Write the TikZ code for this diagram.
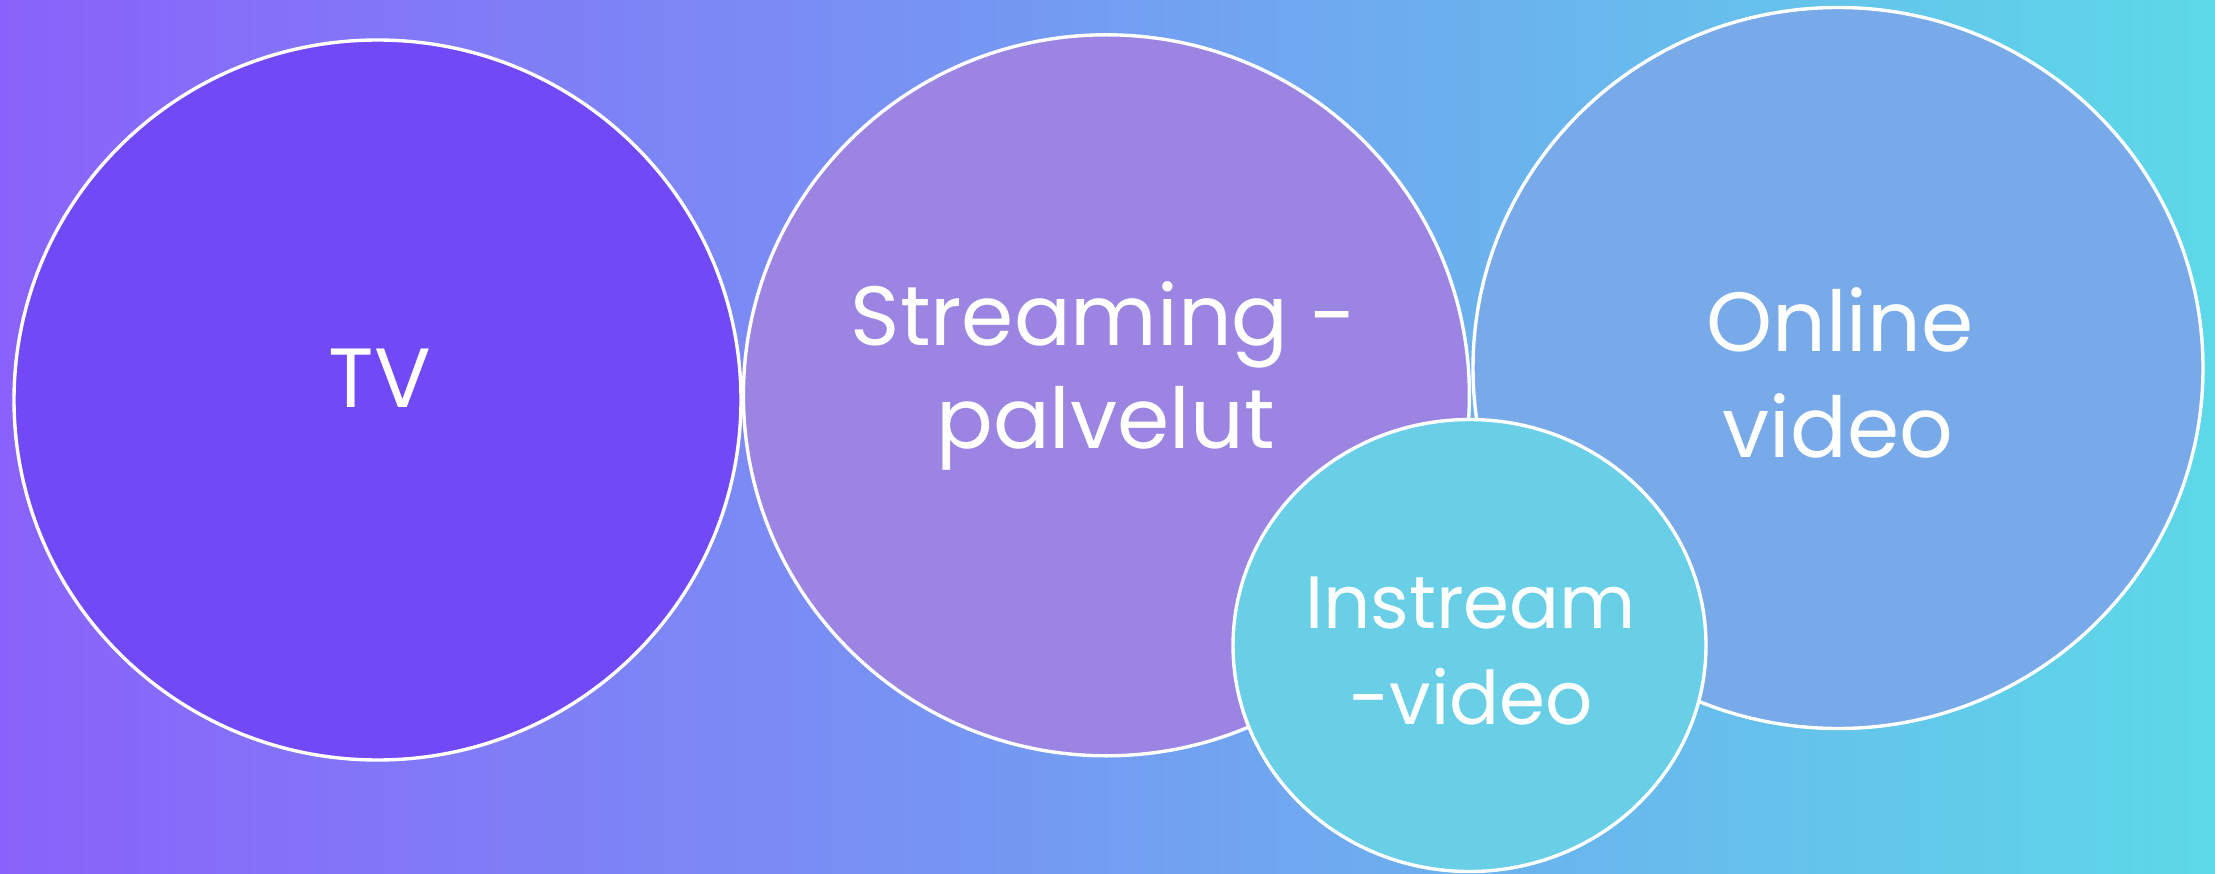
\documentclass[tikz,border=0pt]{standalone}
\usepackage{fontspec}
\setmainfont{Poppins}
\usetikzlibrary{shapes.geometric}
\definecolor{bgL}{RGB}{138,98,251}
\definecolor{bgR}{RGB}{92,217,232}
\definecolor{tvC}{RGB}{114,73,247}
\definecolor{stC}{RGB}{156,132,227}
\definecolor{onC}{RGB}{120,170,234}
\definecolor{inC}{RGB}{105,207,231}
\begin{document}
\begin{tikzpicture}[x=1pt,y=-1pt,
  bubble/.style={ellipse, draw=white, line width=3.4pt, inner sep=0pt},
  lbl/.style={text=white, anchor=base, inner sep=0pt, font=\fontsize{84}{98}\selectfont},
  slbl/.style={lbl, font=\fontsize{74}{88}\selectfont}]
\path[left color=bgL, right color=bgR] (0,0) rectangle (2215,874);
\useasboundingbox (0,0) rectangle (2215,874);
\node[bubble, fill=tvC, minimum width=727pt, minimum height=720pt] (tv) at (377.5,400) {};
\node[bubble, fill=stC, minimum width=726pt, minimum height=721pt] (st) at (1106.4,395.3) {};
\node[bubble, fill=onC, minimum width=730pt, minimum height=721pt] (on) at (1838,368) {};
\node[bubble, fill=inC, minimum width=473pt, minimum height=452pt] (in) at (1469.5,645.5) {};
\node[lbl] (tvT) at (380,407) {TV};
\node[lbl] (stT1) at (1104,345.6) {Streaming -};
\node[lbl] (stT2) at (1105.5,448.7) {palvelut};
\node[lbl] (onT1) at (1840,352) {Online};
\node[lbl] (onT2) at (1838,457) {video};
\node[slbl] (inT1) at (1470.5,628) {Instream};
\node[slbl] (inT2) at (1471,724) {-video};
\end{tikzpicture}
\end{document}
